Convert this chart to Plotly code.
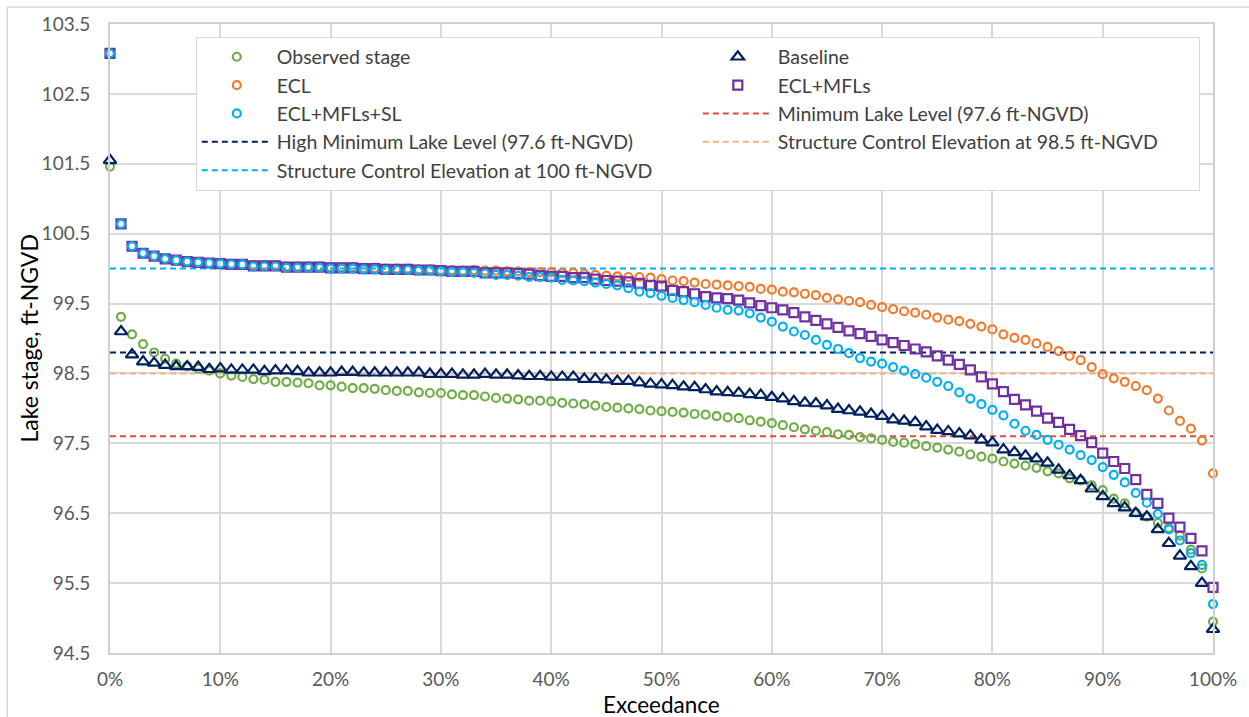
import plotly.graph_objects as go

exceedance = list(range(0, 101))

observed = [101.46, 99.31, 99.06, 98.92, 98.80, 98.71, 98.64, 98.60, 98.57, 98.54,
            98.50, 98.47, 98.45, 98.42, 98.41, 98.38, 98.38, 98.37, 98.36, 98.33,
            98.33, 98.31, 98.29, 98.29, 98.28, 98.26, 98.25, 98.25, 98.23, 98.22,
            98.22, 98.20, 98.19, 98.19, 98.17, 98.15, 98.14, 98.13, 98.11, 98.11,
            98.10, 98.08, 98.07, 98.06, 98.04, 98.02, 98.01, 98.00, 97.99, 97.97,
            97.96, 97.95, 97.94, 97.92, 97.91, 97.89, 97.87, 97.86, 97.83, 97.81,
            97.79, 97.76, 97.73, 97.70, 97.68, 97.66, 97.63, 97.62, 97.59, 97.57,
            97.55, 97.52, 97.51, 97.49, 97.46, 97.44, 97.41, 97.38, 97.34, 97.31,
            97.28, 97.24, 97.21, 97.18, 97.15, 97.10, 97.07, 97.00, 96.97, 96.90,
            96.83, 96.71, 96.64, 96.51, 96.45, 96.36, 96.29, 96.18, 95.98, 95.71,
            94.95]

baseline = [101.55, 99.10, 98.77, 98.67, 98.65, 98.62, 98.60, 98.60, 98.59, 98.56,
            98.57, 98.55, 98.55, 98.55, 98.53, 98.54, 98.54, 98.53, 98.51, 98.51,
            98.51, 98.52, 98.52, 98.51, 98.51, 98.51, 98.51, 98.51, 98.51, 98.49,
            98.49, 98.49, 98.48, 98.48, 98.49, 98.48, 98.48, 98.47, 98.46, 98.46,
            98.45, 98.45, 98.45, 98.42, 98.42, 98.41, 98.39, 98.39, 98.37, 98.35,
            98.34, 98.33, 98.31, 98.30, 98.27, 98.24, 98.23, 98.22, 98.20, 98.19,
            98.16, 98.14, 98.10, 98.08, 98.07, 98.04, 97.99, 97.97, 97.95, 97.92,
            97.89, 97.84, 97.82, 97.80, 97.74, 97.69, 97.67, 97.64, 97.61, 97.55,
            97.51, 97.41, 97.37, 97.32, 97.28, 97.22, 97.12, 97.04, 96.97, 96.85,
            96.74, 96.64, 96.58, 96.50, 96.45, 96.27, 96.07, 95.89, 95.74, 95.50,
            94.84]

ecl = [103.08, 100.64, 100.32, 100.22, 100.18, 100.14, 100.12, 100.10, 100.09, 100.08,
       100.07, 100.07, 100.06, 100.05, 100.05, 100.05, 100.03, 100.03, 100.03, 100.03,
       100.02, 100.02, 100.02, 100.01, 100.01, 100.00, 100.00, 100.00, 99.99, 99.99,
       99.98, 99.98, 99.97, 99.98, 99.97, 99.97, 99.96, 99.96, 99.95, 99.95,
       99.95, 99.94, 99.94, 99.92, 99.91, 99.90, 99.89, 99.88, 99.88, 99.87,
       99.85, 99.83, 99.82, 99.80, 99.78, 99.77, 99.76, 99.75, 99.74, 99.71,
       99.70, 99.67, 99.66, 99.64, 99.62, 99.58, 99.56, 99.54, 99.52, 99.48,
       99.45, 99.42, 99.39, 99.37, 99.34, 99.30, 99.27, 99.25, 99.21, 99.17,
       99.13, 99.06, 99.01, 98.98, 98.93, 98.88, 98.82, 98.75, 98.69, 98.59,
       98.49, 98.43, 98.38, 98.32, 98.26, 98.14, 97.97, 97.82, 97.71, 97.54,
       97.07]

ecl_mfls = [103.08, 100.64, 100.32, 100.22, 100.18, 100.14, 100.12, 100.10, 100.09, 100.08,
            100.07, 100.06, 100.06, 100.04, 100.04, 100.04, 100.02, 100.02, 100.02, 100.02,
            100.01, 100.01, 100.01, 100.00, 100.00, 99.99, 99.99, 99.99, 99.98, 99.98,
            99.97, 99.96, 99.96, 99.96, 99.94, 99.94, 99.94, 99.93, 99.92, 99.90,
            99.89, 99.89, 99.87, 99.87, 99.85, 99.83, 99.82, 99.81, 99.79, 99.76,
            99.75, 99.69, 99.67, 99.64, 99.60, 99.58, 99.57, 99.55, 99.51, 99.47,
            99.44, 99.41, 99.37, 99.31, 99.26, 99.21, 99.16, 99.11, 99.07, 99.03,
            98.98, 98.94, 98.90, 98.85, 98.81, 98.75, 98.69, 98.63, 98.55, 98.45,
            98.35, 98.24, 98.13, 98.05, 97.96, 97.86, 97.80, 97.70, 97.61, 97.51,
            97.36, 97.24, 97.14, 96.98, 96.77, 96.64, 96.43, 96.30, 96.14, 95.96,
            95.44]

ecl_mfls_sl = [103.08, 100.64, 100.32, 100.22, 100.18, 100.14, 100.12, 100.10, 100.09, 100.08,
               100.07, 100.06, 100.06, 100.03, 100.03, 100.03, 100.01, 100.01, 100.01, 100.01,
               100.00, 100.00, 100.00, 99.99, 99.99, 99.98, 99.98, 99.98, 99.97, 99.97,
               99.96, 99.95, 99.95, 99.94, 99.93, 99.91, 99.91, 99.90, 99.88, 99.88,
               99.87, 99.84, 99.83, 99.82, 99.80, 99.78, 99.76, 99.72, 99.67, 99.65,
               99.61, 99.58, 99.55, 99.52, 99.48, 99.44, 99.41, 99.40, 99.36, 99.30,
               99.24, 99.17, 99.10, 99.05, 98.98, 98.91, 98.85, 98.79, 98.72, 98.67,
               98.64, 98.59, 98.54, 98.49, 98.44, 98.38, 98.32, 98.23, 98.14, 98.06,
               97.98, 97.90, 97.78, 97.68, 97.62, 97.55, 97.48, 97.41, 97.33, 97.26,
               97.16, 97.05, 96.94, 96.79, 96.65, 96.49, 96.27, 96.11, 95.93, 95.76,
               95.20]

ref_names = ["Minimum Lake Level (97.6 ft-NGVD)",
             "High Minimum Lake Level (97.6 ft-NGVD)",
             "Structure Control Elevation at 98.5 ft-NGVD",
             "Structure Control Elevation at 100 ft-NGVD"]
ref_levels = [97.6, 98.8, 98.5, 100.0]
ref_colors = ["#e04b45", "#002060", "#f4b183", "#00b0f0"]
ref_ranks = [6, 7, 8, 9]

series_names = ["Observed stage", "Baseline", "ECL", "ECL+MFLs", "ECL+MFLs+SL"]
series_values = [observed, baseline, ecl, ecl_mfls, ecl_mfls_sl]
series_colors = ["#70ad47", "#002060", "#ed7d31", "#7030a0", "#00b0f0"]
series_symbols = ["circle-open", "triangle-up-open", "circle-open", "square-open", "circle-open"]
series_sizes = [8, 11, 8, 9, 8]
series_ranks = [1, 2, 3, 4, 5]

fig = go.Figure()

for name, lvl, col, rk in zip(ref_names, ref_levels, ref_colors, ref_ranks):
    fig.add_trace(go.Scatter(
        x=[exceedance[0], exceedance[-1]], y=[lvl, lvl], mode="lines", name=name,
        line=dict(color=col, width=2, dash="6px,4px"), legendrank=rk, cliponaxis=False))

for name, vals, col, sym, sz, rk in zip(series_names, series_values, series_colors,
                                        series_symbols, series_sizes, series_ranks):
    fig.add_trace(go.Scatter(
        x=exceedance, y=vals, mode="markers", name=name,
        marker=dict(symbol=sym, size=sz, color=col, line=dict(color=col, width=2.2)),
        legendrank=rk, cliponaxis=False))

font_family = "Lato, 'Open Sans', sans-serif"

fig.update_layout(
    width=1249, height=717,
    margin=dict(l=110, r=34, t=24, b=64),
    paper_bgcolor="white", plot_bgcolor="white",
    font=dict(family=font_family, color="#595959", size=19),
    showlegend=True,
    legend=dict(
        orientation="h", x=0.0778, xanchor="left", y=0.98, yanchor="top",
        entrywidth=416, entrywidthmode="pixels", itemwidth=70,
        bgcolor="white", bordercolor="#d9d9d9", borderwidth=1,
        font=dict(family=font_family, size=19.5, color="#404040"),
        traceorder="normal", tracegroupgap=0,
    ),
    xaxis=dict(
        range=[0, 100], tick0=0, dtick=10, ticksuffix="%",
        showgrid=True, gridcolor="#d9d9d9", gridwidth=2,
        showline=True, linecolor="#d0d0d0", linewidth=2, mirror=True,
        zeroline=False, ticks="outside", ticklen=8, tickcolor="rgba(0,0,0,0)",
        tickfont=dict(size=19, color="#595959"),
    ),
    yaxis=dict(
        range=[94.5, 103.5], tick0=94.5, dtick=1, tickformat=".1f",
        showgrid=True, gridcolor="#d9d9d9", gridwidth=2,
        showline=True, linecolor="#d0d0d0", linewidth=2, mirror=True,
        zeroline=False, ticks="outside", ticklen=14, tickcolor="rgba(0,0,0,0)",
        tickfont=dict(size=19, color="#595959"),
    ),
    annotations=[
        dict(text="Lake stage, ft-NGVD", xref="paper", yref="paper", x=0, y=0.5,
             xanchor="center", yanchor="middle", xshift=-82, textangle=-90,
             showarrow=False, font=dict(family=font_family, size=23, color="#000000")),
        dict(text="Exceedance", xref="paper", yref="paper", x=0.5, y=0,
             xanchor="center", yanchor="middle", yshift=-51,
             showarrow=False, font=dict(family=font_family, size=22.5, color="#000000")),
    ],
    shapes=[
        dict(type="line", xref="paper", yref="paper", x0=-103/1105, x1=-103/1105,
             y0=-0.2, y1=(653-7)/629, line=dict(color="#d9d9d9", width=1.5)),
        dict(type="line", xref="paper", yref="paper", x0=-103/1105, x1=1.2,
             y0=(653-7)/629, y1=(653-7)/629, line=dict(color="#d9d9d9", width=1.5)),
    ],
)

fig.write_html("out.html",
               config={"displayModeBar": False},
               post_script="document.body.style.margin='0';document.body.style.overflow='hidden';")
